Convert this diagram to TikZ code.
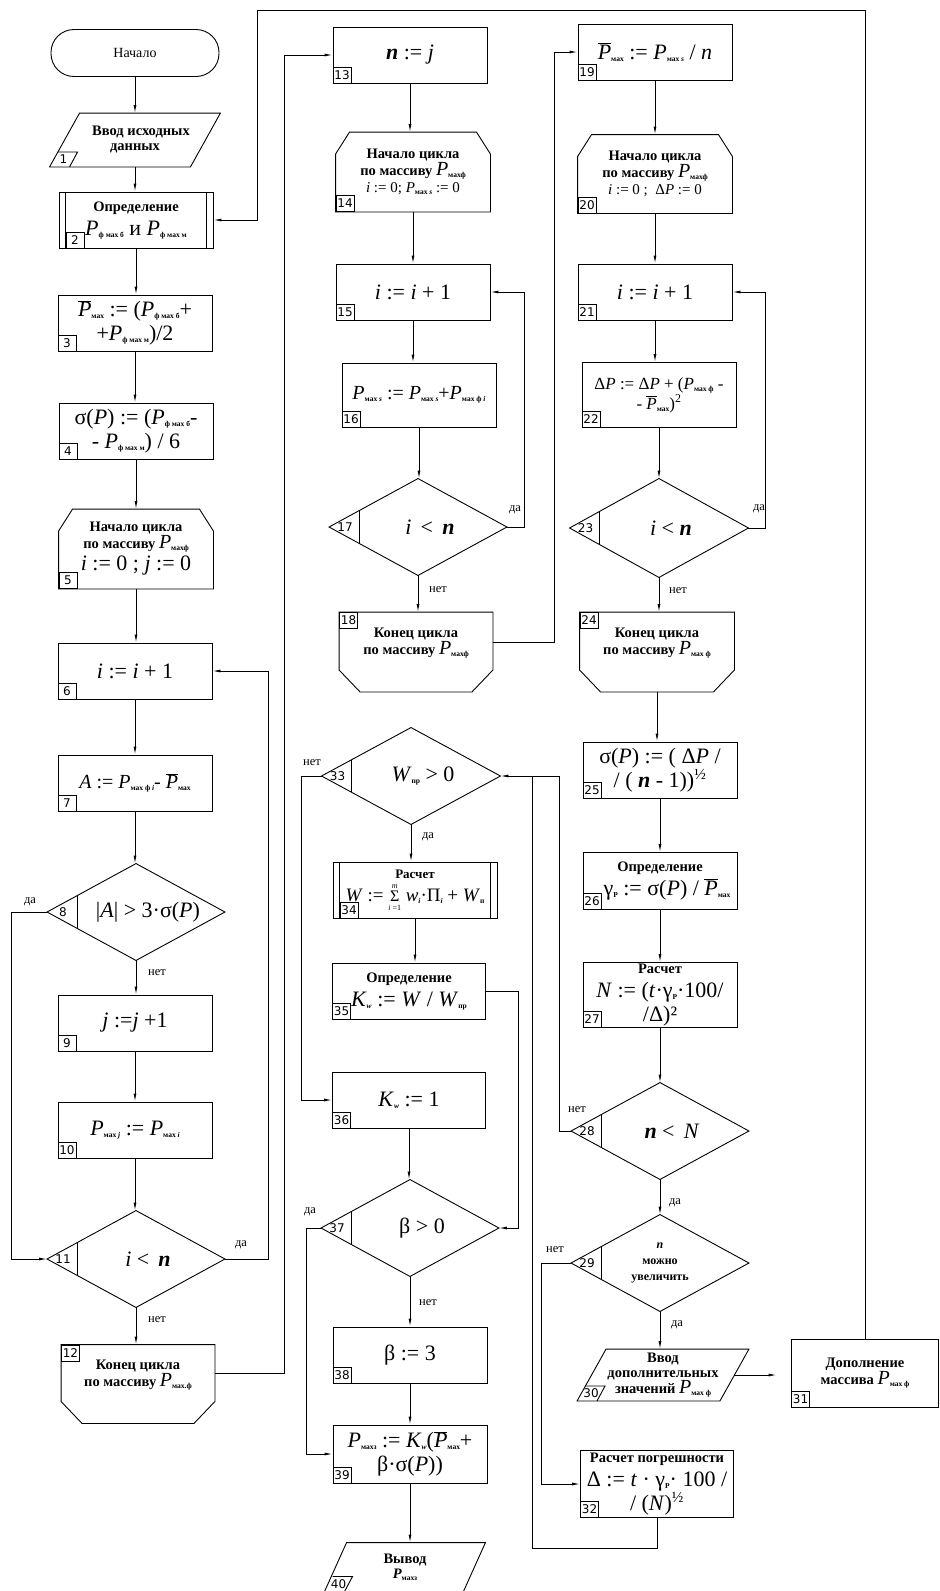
\documentclass[tikz,border=0pt]{standalone}
\usepackage{fontspec}
\setmainfont{Liberation Serif}
\newfontfamily\numfnt{DejaVu Sans}
\usetikzlibrary{arrows.meta,calc}

\newcommand\capt{\fontsize{14.5}{15}\selectfont\bfseries}
\newcommand\frm{\fontsize{22}{24}\selectfont}
\newcommand\sbs[1]{\raisebox{-2pt}{\fontsize{7.5}{7.5}\selectfont\bfseries #1}}
\newcommand\Pv[1]{\textit{P}\sbs{#1}}
\newcommand\PV[1]{{\fontsize{20}{20}\selectfont\mdseries\textit{P}}\sbs{#1}}
\newcommand\Pbar{$\overline{\textit{P}}$}
\newcommand\sumstack{\raisebox{-9pt}{\shortstack{{\fontsize{8}{8}\selectfont\textit{m}}\\{\fontsize{16}{14}\selectfont Σ}\\{\fontsize{8}{8}\selectfont\textit{i} =1}}}}

\newcommand\numbox[2]{\node[num,anchor=south west] (#1k) at (#1.south west) {#2};}
\newcommand\numtop[2]{\node[num,anchor=north west] (#1k) at (#1.north west) {#2};}
\newcommand\dmd[2]{\draw (#1.north) -- (#1.east) -- (#1.south) -- (#1.west) -- cycle;
  \draw ([xshift=30pt,yshift=16pt]#1.west) -- ([xshift=30pt,yshift=-16pt]#1.west);
  \node[numtxt] (#1k) at ([xshift=16pt]#1.west) {#2};}
\newcommand\loopbeg[1]{\draw (#1.south west) -- ([yshift=-22pt]#1.north west) -- ([xshift=14pt]#1.north west) -- ([xshift=-14pt]#1.north east) -- ([yshift=-22pt]#1.north east) -- (#1.south east) -- cycle;}
\newcommand\loopend[1]{\draw (#1.north west) -- (#1.north east) -- ([yshift=22pt]#1.south east) -- ([xshift=-21pt]#1.south east) -- ([xshift=21pt]#1.south west) -- ([yshift=22pt]#1.south west) -- cycle;}
\newcommand\para[2]{\draw ([xshift=#2]#1.north west) -- (#1.north east) -- ([xshift=-#2]#1.south east) -- (#1.south west) -- cycle;}
\newcommand\paranum[2]{\draw ([shift={(8pt,15pt)}]#1.south west) -- ++(20pt,0pt) -- ++(-8pt,-15pt);
  \node[numtxt] (#1k) at ([shift={(14pt,7.5pt)}]#1.south west) {#2};}
\newcommand\predef[1]{\draw ([xshift=7pt]#1.north west) -- ([xshift=7pt]#1.south west) ([xshift=-7pt]#1.north east) -- ([xshift=-7pt]#1.south east);}

\begin{document}
\begin{tikzpicture}[x=1pt,y=-1pt,line width=0.9pt,
  box/.style={draw,minimum width=154pt,minimum height=56pt,inner sep=0pt,align=center,font=\frm},
  hold/.style={minimum width=154pt,minimum height=79pt,inner sep=0pt,align=center,font=\capt},
  dec/.style={minimum width=177pt,minimum height=96pt,inner sep=0pt,align=center,font=\frm},
  numtxt/.style={inner sep=0pt,font=\numfnt\fontsize{12}{12}\selectfont},
  num/.style={draw,minimum width=18pt,minimum height=16pt,inner sep=0pt,font=\numfnt\fontsize{12}{12}\selectfont},
  lbl/.style={font=\fontsize{12.5}{12.5}\selectfont},
  flow/.style={-{Latex[length=8pt,width=3pt]}}]
  \useasboundingbox (0,0) rectangle (940,1591);

  \node[draw,rounded corners=23pt,minimum width=168pt,minimum height=47pt,font=\fontsize{14}{15}\selectfont] (start) at (135,53) {Начало};
  \node[hold,minimum width=170pt,minimum height=53pt] (n1) at (135,140) {\hspace*{12pt}Ввод исходных\\данных};
  \para{n1}{30pt} \paranum{n1}{1}
  \node[box] (n2) at (136,220) {{\capt Определение}\\\Pv{ф мах б} и \Pv{ф мах м}};
  \predef{n2}
  \node[num,anchor=south west] (n2k) at ([xshift=7pt]n2.south west) {2};
  \node[box] (n3) at (135,323) {\Pbar\sbs{мах} := (\Pv{ф мах б}+\\+\Pv{ф мах м})/2};
  \numbox{n3}{3}
  \node[box] (n4) at (136,431) {σ(\textit{P}) := (\Pv{ф мах б}-\\- \Pv{ф мах м}) / 6};
  \numbox{n4}{4}
  \node[hold] (n5) at (136,549) {Начало цикла\\по массиву \PV{махф}\\[3pt]{\frm\mdseries \textit{i} := 0 ; \textit{j} := 0}};
  \loopbeg{n5} \numbox{n5}{5}
  \node[box] (n6) at (135,671) {\textit{i} := \textit{i} + 1};
  \numbox{n6}{6}
  \node[box,font=\fontsize{20}{22}\selectfont] (n7) at (135,783) {\textit{A} := \Pv{мах ф \textit{i}}- \Pbar\sbs{мах}};
  \numbox{n7}{7}
  \node[dec] (d8) at (136,912) {\hspace*{24pt}|\textit{A}| > 3·σ(\textit{P})};
  \dmd{d8}{8}
  \node[box] (n9) at (135,1023) {\textit{j} :=\textit{j} +1};
  \numbox{n9}{9}
  \node[box] (n10) at (135,1130) {\Pv{мах \textit{j}} := \Pv{мах \textit{i}}};
  \numbox{n10}{10}
  \node[dec] (d11) at (136,1259) {\hspace*{24pt}\textit{i} <\, \textbf{\textit{n}}};
  \dmd{d11}{11}
  \node[hold,minimum width=153pt,minimum height=78pt] (n12) at (138,1384) {Конец цикла\\по массиву \PV{мах.ф}\\[6pt]};
  \loopend{n12} \numtop{n12}{12}

  \node[box] (n13) at (410,55) {\textbf{\textit{n}} := \textit{j}};
  \numbox{n13}{13}
  \node[hold] (n14) at (413,172) {Начало цикла\\по массиву \PV{махф}\\[2pt]{\fontsize{15}{16}\selectfont\mdseries \textit{i} := 0; \Pv{мах \textit{s}} := 0}};
  \loopbeg{n14} \numbox{n14}{14}
  \node[box] (n15) at (413,292) {\textit{i} := \textit{i} + 1};
  \numbox{n15}{15}
  \node[box,minimum height=64pt,font=\fontsize{20}{22}\selectfont] (n16) at (419,395) {\Pv{мах \textit{s}} := \Pv{мах \textit{s}}+\Pv{мах ф \textit{i}}};
  \numbox{n16}{16}
  \node[dec] (d17) at (418,527) {\hspace*{24pt}\textit{i} \,<\, \textbf{\textit{n}}};
  \dmd{d17}{17}
  \node[hold,minimum width=153pt] (n18) at (416,652) {Конец цикла\\по массиву \PV{махф}\\[6pt]};
  \loopend{n18} \numtop{n18}{18}
  \node[dec,minimum width=178pt] (d33) at (411,776) {\hspace*{24pt}\textit{W}\sbs{пр} > 0};
  \dmd{d33}{33}
  \node[box,minimum width=164pt,font=\fontsize{19}{19}\selectfont] (n34) at (415,890) {{\fontsize{13}{13}\selectfont\bfseries Расчет}\\[4pt]\textit{W} := \sumstack\ \textit{w}\sbs{\textit{i}}·Π\sbs{\textit{i}} + \textit{W}\sbs{п}};
  \predef{n34}
  \node[num,anchor=south west] (n34k) at ([xshift=7pt]n34.south west) {34};
  \node[box,minimum width=153pt] (n35) at (409,991) {{\capt Определение}\\\textit{K}\sbs{\textit{w}} := \textit{W} / \textit{W}\sbs{пр}};
  \numbox{n35}{35}
  \node[box,minimum width=153pt] (n36) at (409,1100) {\textit{K}\sbs{\textit{w}} := 1};
  \numbox{n36}{36}
  \node[dec] (d37) at (410,1228) {\hspace*{24pt}β > 0};
  \dmd{d37}{37}
  \node[box] (n38) at (410,1355) {β := 3};
  \numbox{n38}{38}
  \node[box,minimum height=58pt] (n39) at (410,1454) {\Pv{махз} := \textit{K}\sbs{\textit{w}}(\Pbar\sbs{мах}+\\β·σ(\textit{P}))};
  \numbox{n39}{39}
  \node[hold,minimum width=160pt,minimum height=48pt] (n40) at (405,1567) {Вывод\\\Pv{махз}};
  \para{n40}{22pt} \paranum{n40}{40}

  \node[box] (n19) at (655,52) {\Pbar\sbs{мах} := \Pv{мах \textit{s}} / \textit{n}};
  \numbox{n19}{19}
  \node[hold,minimum height=78pt] (n20) at (655,174) {Начало цикла\\по массиву \PV{махф}\\[2pt]{\fontsize{15}{16}\selectfont\mdseries \textit{i} := 0 ;\ \ Δ\textit{P} := 0}};
  \loopbeg{n20} \numbox{n20}{20}
  \node[box] (n21) at (655,292) {\textit{i} := \textit{i} + 1};
  \numbox{n21}{21}
  \node[box,minimum height=65pt,font=\fontsize{17}{20}\selectfont] (n22) at (659,395) {Δ\textit{P} := Δ\textit{P} + (\Pv{мах ф} -\\- \Pbar\sbs{мах})\textsuperscript{2}};
  \numbox{n22}{22}
  \node[dec,minimum width=178pt,minimum height=98pt] (d23) at (659,528) {\hspace*{24pt}\textit{i} < \textbf{\textit{n}}};
  \dmd{d23}{23}
  \node[hold] (n24) at (657,652) {Конец цикла\\по массиву \PV{мах ф}\\[6pt]};
  \loopend{n24} \numtop{n24}{24}
  \node[box] (n25) at (660,770) {σ(\textit{P}) := ( Δ\textit{P} /\\/ ( \textbf{\textit{n}} - 1))\textsuperscript{½}};
  \numbox{n25}{25}
  \node[box,minimum height=57pt] (n26) at (660,881) {{\capt Определение}\\\hspace*{14pt}γ\sbs{P} := σ(\textit{P}) / \Pbar\sbs{мах}};
  \numbox{n26}{26}
  \node[box,minimum height=65pt] (n27) at (660,995) {{\capt Расчет}\\\textit{N} := (\textit{t}·γ\sbs{P}·100/\\/Δ)²};
  \numbox{n27}{27}
  \node[dec] (d28) at (660,1131) {\hspace*{24pt}\textbf{\textit{n}} <\, \textit{N}};
  \dmd{d28}{28}
  \node[dec,font=\fontsize{12}{16}\selectfont\bfseries] (d29) at (660,1263) {\textit{n}\\можно\\увеличить};
  \dmd{d29}{29}
  \node[hold,minimum width=171pt,minimum height=51pt] (n30) at (663,1375) {Ввод\\дополнительных\\значений \PV{мах ф}};
  \para{n30}{29pt} \paranum{n30}{30}
  \node[box,minimum width=147pt,minimum height=68pt,font=\capt] (n31) at (865,1373) {Дополнение\\массива \PV{мах ф}};
  \numbox{n31}{31}
  \node[box,minimum width=153pt,minimum height=67pt] (n32) at (657,1484) {{\capt Расчет погрешности}\\Δ := \textit{t} · γ\sbs{P}· 100 /\\/ (\textit{N})\textsuperscript{½}};
  \numbox{n32}{32}

  \foreach \a/\b in {start/n1,n1/n2,n2/n3,n3/n4,n4/n5,n5/n6,n6/n7,n7/d8,d8/n9,n9/n10,n10/d11,d11/n12,
    n13/n14,n14/n15,n15/n16,n16/d17,d17/n18,d33/n34,n34/n35,n36/d37,d37/n38,n38/n39,n39/n40,
    n19/n20,n20/n21,n21/n22,n22/d23,d23/n24,n24/n25,n25/n26,n26/n27,n27/d28,d28/d29,d29/n30}
    \draw[flow] (\a.south) -- (\a.south |- \b.north);

  \coordinate (tl) at (257,10);
  \draw[flow] (n31.north) |- (tl) |- (n2.east);
  \draw[flow] (d8.west) -- ++(-36,0) |- (d11.west);
  \draw[flow] (d11.east) -- ++(43,0) |- (n6.east);
  \draw[flow] ([yshift=11pt]n12.east) -- ++(69,0) |- (n13.west);
  \draw[flow] (d17.east) -- ++(17,0) |- (n15.east);
  \draw[flow] ([yshift=10pt]n18.east) -- ++(61,0) |- (n19.west);
  \draw[flow] (d23.east) -- ++(17,0) |- (n21.east);
  \draw[flow] (d28.west) -- ++(-12,0) |- (d33.east);
  \draw (n32.south) -- ++(0,30) -| ([xshift=32pt]d33.east);
  \draw[flow] (d29.west) -- ++(-30,0) |- (n32.west);
  \draw[flow] ([xshift=-14.5pt]n30.east) -- ([xshift=-14.5pt]n30.east -| n31.west);
  \draw[flow] (d33.west) -- ++(-20,0) |- (n36.west);
  \draw[flow] (n35.east) -- ++(32,0) |- (d37.east);
  \draw[flow] (d37.west) -- ++(-15,0) |- (n39.west);

  \node[lbl] (l8a) at (30,902) {да};
  \node[lbl] (l8b) at (157,973) {нет};
  \node[lbl] (l11a) at (241,1245) {да};
  \node[lbl] (l11b) at (157,1320) {нет};
  \node[lbl] (l17a) at (515,510) {да};
  \node[lbl] (l17b) at (438,590) {нет};
  \node[lbl] (l23a) at (759,509) {да};
  \node[lbl] (l23b) at (678,591) {нет};
  \node[lbl] (l28b) at (577,1110) {нет};
  \node[lbl] (l28a) at (675,1203) {да};
  \node[lbl] (l29b) at (555,1250) {нет};
  \node[lbl] (l29a) at (677,1325) {да};
  \node[lbl] (l33b) at (312,763) {нет};
  \node[lbl] (l33a) at (428,837) {да};
  \node[lbl] (l37a) at (310,1212) {да};
  \node[lbl] (l37b) at (428,1303) {нет};
\end{tikzpicture}
\end{document}
